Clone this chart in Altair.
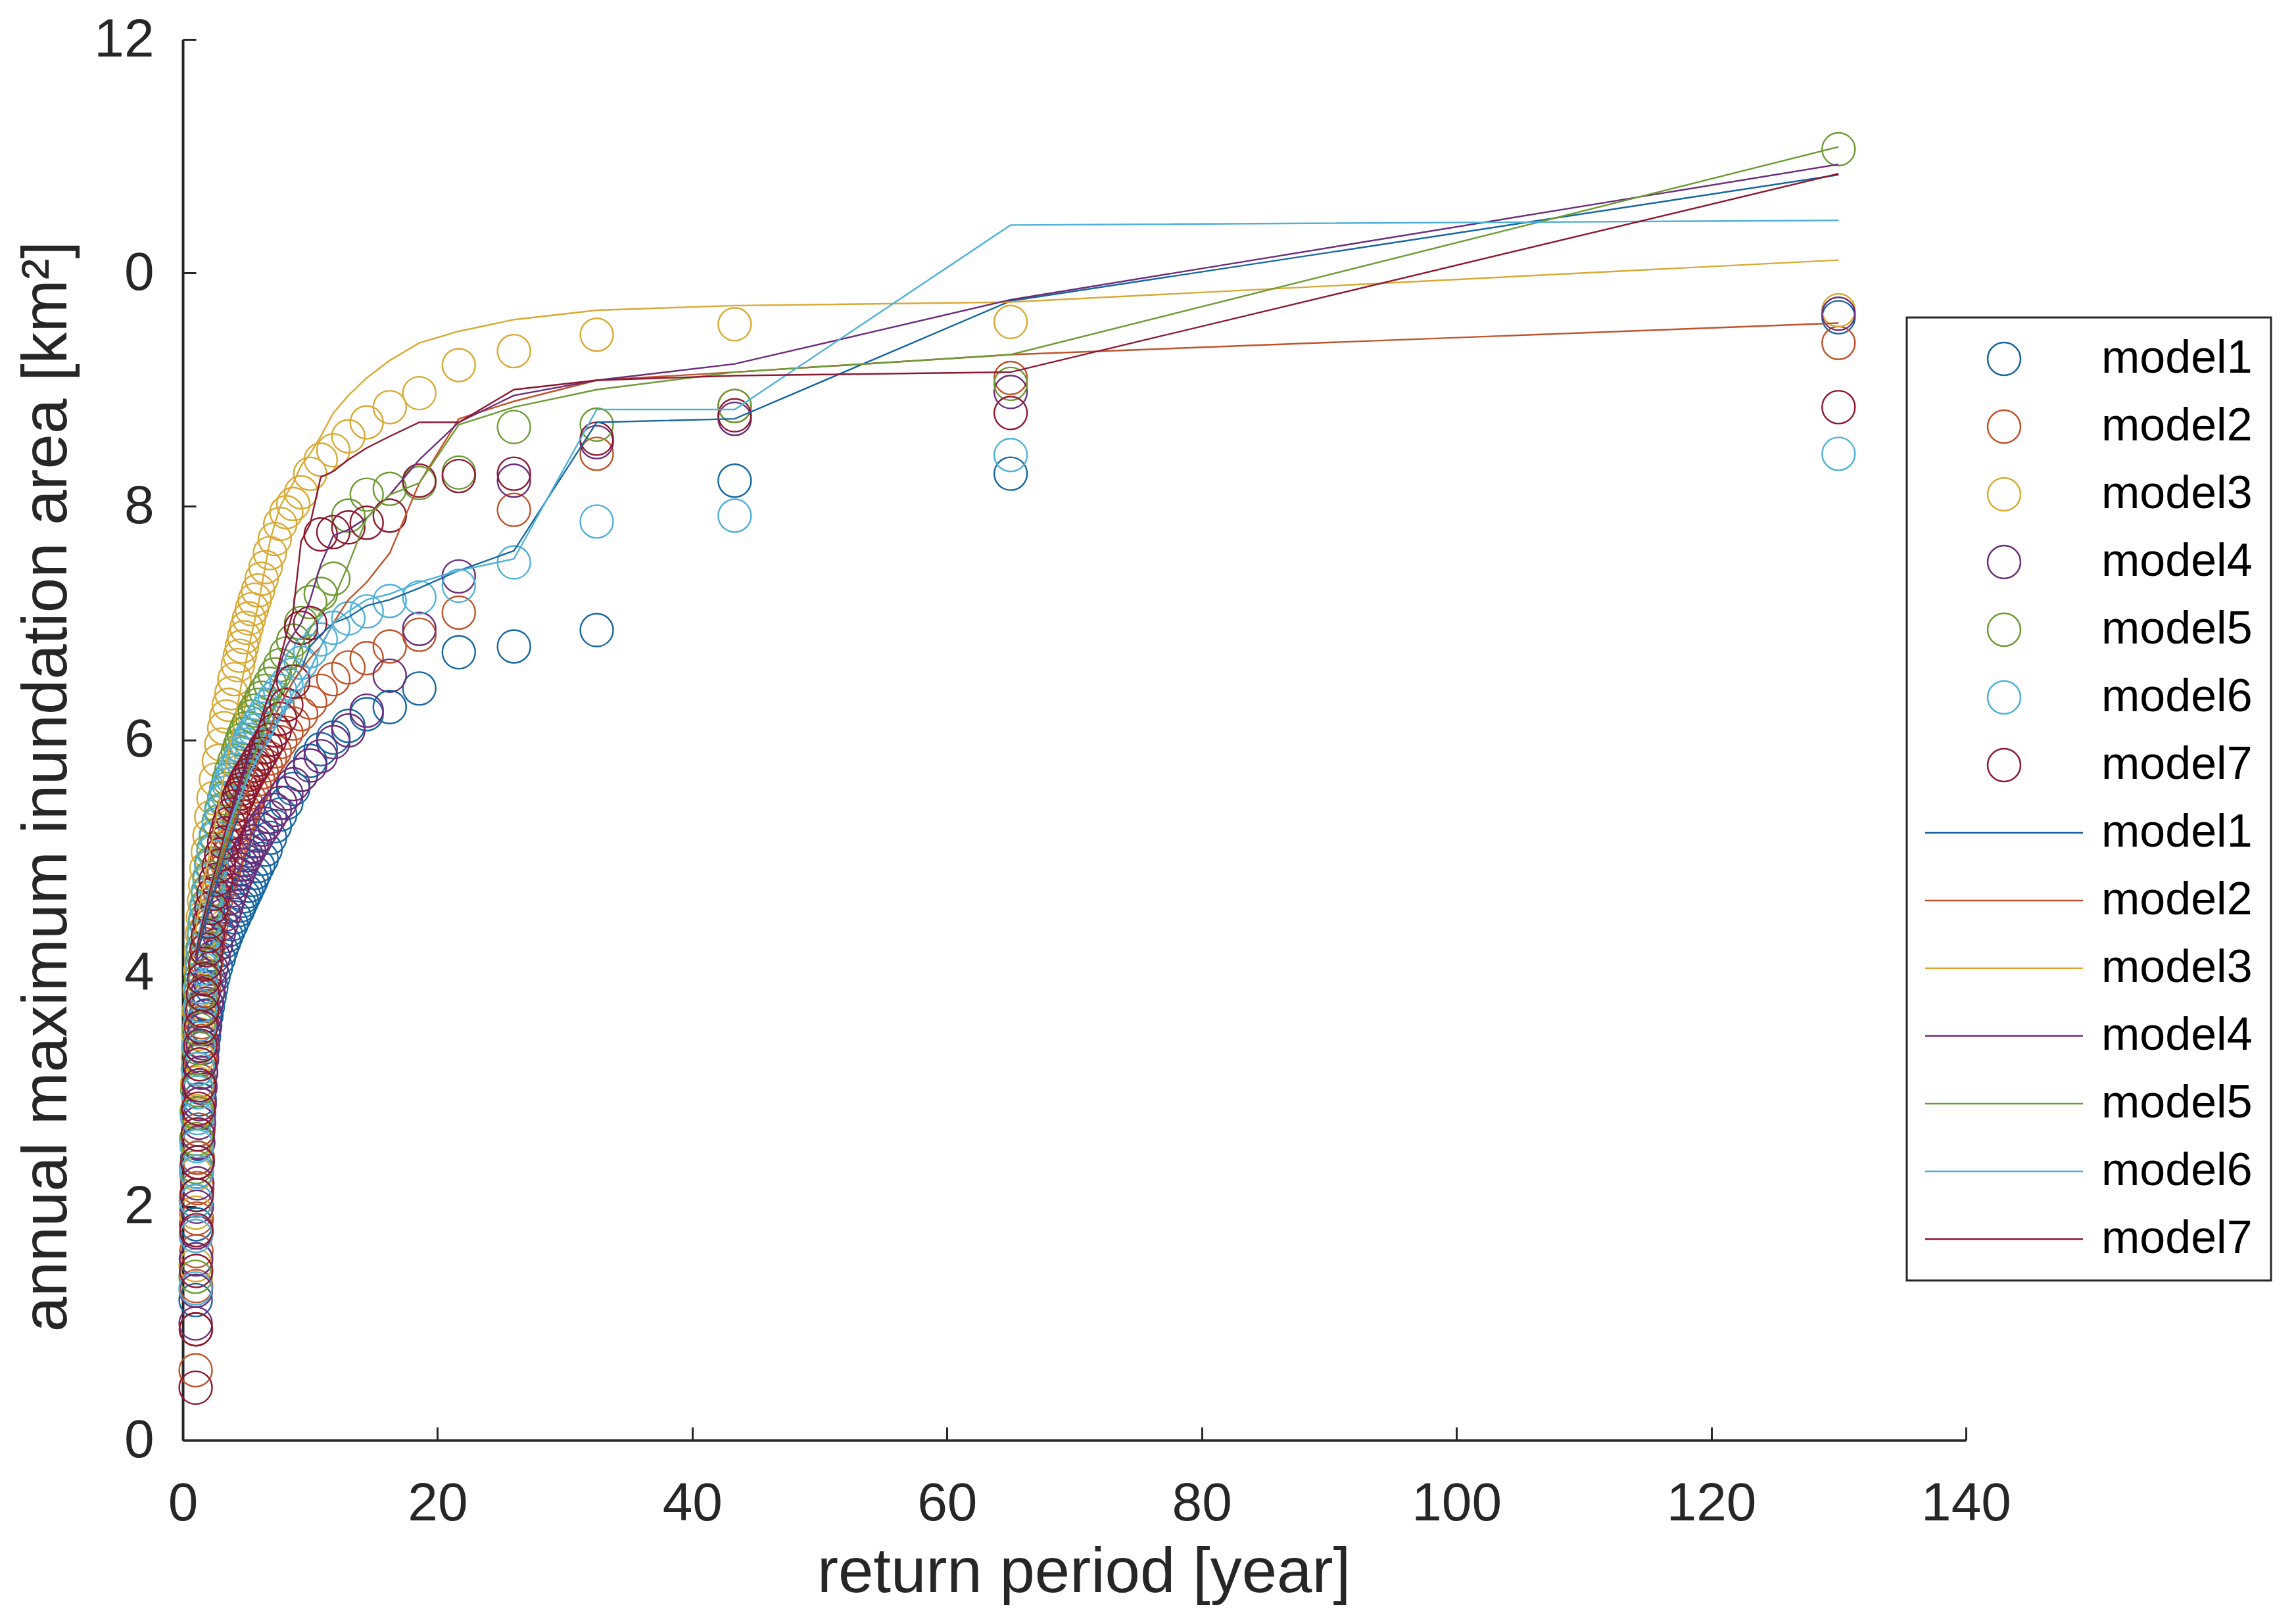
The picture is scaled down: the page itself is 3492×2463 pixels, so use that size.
import altair as alt
import pandas as pd

models = ["model1", "model2", "model3", "model4", "model5", "model6", "model7"]
colors = ["#1565A0", "#C0522A", "#D8AA35", "#6A2D7A", "#6E9A35", "#4FB0D8", "#8C1830"]

# return periods of the plotted (ranked) observations
x_points = [130.0, 65.0, 43.33, 32.5, 26.0, 21.67, 18.57, 16.25, 14.44, 13.0,
            11.82, 10.83, 10.0, 9.29, 8.67, 8.13, 7.65, 7.22, 6.84, 6.5,
            6.19, 5.91, 5.65, 5.42, 5.2, 5.0, 4.81, 4.64, 4.48, 4.33,
            4.06, 3.82, 3.61, 3.42, 3.25, 3.02, 2.83, 2.6, 2.41, 2.24,
            2.1, 1.97, 1.86, 1.76, 1.67, 1.58, 1.51, 1.44, 1.38, 1.33,
            1.27, 1.22, 1.18, 1.14, 1.1, 1.07, 1.05, 1.03, 1.01]

obs_m1 = [9.62, 8.28, 8.22, 6.94, 6.80, 6.75, 6.44, 6.28, 6.22, 6.12,
          6.02, 5.92, 5.82, 5.70, 5.58, 5.46, 5.36, 5.26, 5.16, 5.06,
          4.98, 4.92, 4.86, 4.80, 4.75, 4.70, 4.66, 4.62, 4.58, 4.54,
          4.48, 4.42, 4.37, 4.32, 4.27, 4.20, 4.13, 4.05, 3.97, 3.88,
          3.80, 3.72, 3.64, 3.55, 3.46, 3.36, 3.26, 3.15, 3.04, 2.92,
          2.80, 2.66, 2.54, 2.42, 2.30, 2.10, 1.85, 1.55, 1.20]
obs_m2 = [9.40, 9.10, 8.86, 8.45, 7.97, 7.09, 6.90, 6.80, 6.70, 6.62,
          6.52, 6.42, 6.32, 6.22, 6.14, 6.06, 5.98, 5.90, 5.84, 5.78,
          5.72, 5.66, 5.60, 5.55, 5.50, 5.45, 5.40, 5.35, 5.30, 5.26,
          5.18, 5.10, 5.02, 4.95, 4.88, 4.80, 4.72, 4.62, 4.52, 4.42,
          4.32, 4.22, 4.10, 3.98, 3.85, 3.72, 3.58, 3.42, 3.26, 3.08,
          2.88, 2.66, 2.42, 2.16, 1.90, 1.62, 1.32, 0.95, 0.60]
obs_m3 = [9.68, 9.58, 9.56, 9.47, 9.33, 9.21, 8.97, 8.85, 8.72, 8.60,
          8.48, 8.40, 8.28, 8.12, 8.02, 7.95, 7.85, 7.72, 7.60, 7.48,
          7.38, 7.28, 7.20, 7.12, 7.04, 6.96, 6.88, 6.80, 6.72, 6.64,
          6.52, 6.40, 6.30, 6.20, 6.10, 5.96, 5.82, 5.66, 5.50, 5.34,
          5.18, 5.04, 4.90, 4.76, 4.62, 4.48, 4.34, 4.18, 4.02, 3.86,
          3.68, 3.48, 3.28, 3.06, 2.82, 2.56, 2.28, 1.95, 1.50]
obs_m4 = [9.65, 8.98, 8.75, 8.55, 8.22, 7.40, 6.95, 6.55, 6.25, 6.08,
          5.98, 5.86, 5.78, 5.70, 5.62, 5.54, 5.46, 5.40, 5.34, 5.28,
          5.23, 5.18, 5.13, 5.09, 5.05, 5.01, 4.97, 4.93, 4.89, 4.85,
          4.78, 4.71, 4.64, 4.57, 4.50, 4.42, 4.34, 4.24, 4.14, 4.04,
          3.94, 3.84, 3.74, 3.63, 3.52, 3.40, 3.28, 3.15, 3.02, 2.88,
          2.72, 2.55, 2.38, 2.20, 2.00, 1.78, 1.55, 1.28, 1.00]
obs_m5 = [11.06, 9.05, 8.86, 8.70, 8.68, 8.29, 8.20, 8.15, 8.10, 7.92,
          7.38, 7.25, 7.18, 7.00, 6.85, 6.74, 6.64, 6.56, 6.48, 6.42,
          6.36, 6.30, 6.25, 6.20, 6.15, 6.10, 6.05, 6.00, 5.95, 5.90,
          5.82, 5.74, 5.66, 5.58, 5.50, 5.40, 5.30, 5.18, 5.06, 4.94,
          4.82, 4.70, 4.58, 4.46, 4.34, 4.22, 4.10, 3.96, 3.82, 3.68,
          3.52, 3.36, 3.18, 3.00, 2.80, 2.58, 2.34, 2.05, 1.40]
obs_m6 = [8.45, 8.44, 7.92, 7.87, 7.52, 7.32, 7.22, 7.19, 7.10, 7.04,
          6.96, 6.86, 6.76, 6.66, 6.56, 6.48, 6.42, 6.36, 6.30, 6.24,
          6.18, 6.13, 6.08, 6.04, 6.00, 5.96, 5.92, 5.88, 5.84, 5.80,
          5.74, 5.68, 5.62, 5.55, 5.48, 5.38, 5.28, 5.16, 5.04, 4.92,
          4.80, 4.68, 4.56, 4.44, 4.32, 4.18, 4.04, 3.88, 3.72, 3.56,
          3.38, 3.18, 2.98, 2.76, 2.52, 2.30, 2.05, 1.75, 1.30]
obs_m7 = [8.85, 8.80, 8.78, 8.58, 8.28, 8.26, 8.22, 7.92, 7.86, 7.82,
          7.78, 7.76, 7.00, 6.96, 6.50, 6.30, 6.18, 6.08, 6.00, 5.94,
          5.88, 5.83, 5.78, 5.74, 5.70, 5.66, 5.62, 5.58, 5.54, 5.50,
          5.43, 5.36, 5.28, 5.20, 5.12, 5.02, 4.92, 4.80, 4.68, 4.56,
          4.44, 4.32, 4.20, 4.08, 3.95, 3.82, 3.68, 3.54, 3.38, 3.22,
          3.04, 2.84, 2.62, 2.38, 2.10, 1.80, 1.45, 0.95, 0.45]

# fitted curves
x_lines = [130.0, 65.0, 43.33, 32.5, 26.0, 21.67, 18.57, 16.25, 14.44, 13.0,
           11.82, 10.83, 10.0, 9.29, 8.67, 8.13, 7.65, 7.22, 6.84, 6.5,
           5.91, 5.2, 4.64, 4.06, 3.42, 2.83, 2.24, 1.86, 1.58, 1.38,
           1.22, 1.1, 1.01]

fit_m1 = [10.84, 9.76, 8.75, 8.72, 7.62, 7.45, 7.30, 7.20, 7.15, 7.05,
          7.00, 6.90, 6.80, 6.60, 6.50, 6.40, 6.30, 6.20, 6.10, 6.00,
          5.80, 5.60, 5.45, 5.25, 5.05, 4.85, 4.62, 4.47, 4.35, 4.26,
          4.19, 4.13, 4.10]
fit_m2 = [9.57, 9.30, 9.15, 9.08, 8.90, 8.75, 8.20, 7.60, 7.35, 7.20,
          7.00, 6.80, 6.70, 6.60, 6.50, 6.40, 6.30, 6.20, 6.10, 6.00,
          5.80, 5.60, 5.45, 5.30, 5.10, 4.90, 4.70, 4.55, 4.42, 4.32,
          4.25, 4.18, 4.15]
fit_m3 = [10.11, 9.75, 9.72, 9.68, 9.60, 9.50, 9.40, 9.25, 9.10, 8.95,
          8.80, 8.60, 8.45, 8.35, 8.20, 8.10, 8.00, 7.85, 7.70, 7.50,
          7.15, 6.80, 6.50, 6.15, 5.80, 5.45, 5.10, 4.90, 4.75, 4.60,
          4.51, 4.42, 4.35]
fit_m4 = [10.93, 9.77, 9.22, 9.08, 8.95, 8.72, 8.40, 8.10, 7.90, 7.80,
          7.75, 7.50, 7.20, 7.00, 6.90, 6.80, 6.65, 6.50, 6.40, 6.30,
          6.10, 5.85, 5.65, 5.45, 5.20, 4.95, 4.70, 4.52, 4.40, 4.30,
          4.22, 4.16, 4.12]
fit_m5 = [11.08, 9.30, 9.15, 9.00, 8.85, 8.70, 8.20, 8.10, 7.90, 7.50,
          7.20, 7.10, 6.95, 6.80, 6.65, 6.50, 6.40, 6.30, 6.20, 6.10,
          5.95, 5.75, 5.55, 5.35, 5.15, 4.95, 4.72, 4.55, 4.43, 4.33,
          4.25, 4.19, 4.15]
fit_m6 = [10.45, 10.41, 8.83, 8.83, 7.55, 7.45, 7.35, 7.25, 7.20, 7.10,
          7.00, 6.80, 6.60, 6.50, 6.40, 6.30, 6.20, 6.10, 6.00, 5.95,
          5.85, 5.70, 5.55, 5.40, 5.20, 5.00, 4.78, 4.62, 4.50, 4.40,
          4.32, 4.25, 4.20]
fit_m7 = [10.85, 9.15, 9.12, 9.08, 9.00, 8.72, 8.72, 8.60, 8.50, 8.40,
          8.30, 8.25, 7.85, 7.70, 7.10, 6.90, 6.70, 6.50, 6.40, 6.30,
          6.10, 5.90, 5.70, 5.50, 5.25, 5.00, 4.75, 4.58, 4.45, 4.35,
          4.27, 4.20, 4.15]

x_ticks = [0, 20, 40, 60, 80, 100, 120, 140]
y_ticks = [0, 2, 4, 6, 8, 10, 12]

obs = [obs_m1, obs_m2, obs_m3, obs_m4, obs_m5, obs_m6, obs_m7]
fits = [fit_m1, fit_m2, fit_m3, fit_m4, fit_m5, fit_m6, fit_m7]

rows_p = []
for name, ys in zip(models, obs):
    for xv, yv in zip(x_points, ys):
        rows_p.append({"x": xv, "y": yv, "key": "c|" + name})
rows_l = []
for name, ys in zip(models, fits):
    for xv, yv in zip(x_lines, ys):
        rows_l.append({"x": xv, "y": yv, "key": "l|" + name})
df_p = pd.DataFrame(rows_p)
df_l = pd.DataFrame(rows_l)

keys = ["c|" + m for m in models] + ["l|" + m for m in models]
color_scale = alt.Scale(domain=keys, range=colors + colors)
shape_scale = alt.Scale(domain=keys, range=["circle"] * 7 + ["M-4.8,0H4.8"] * 7)

FONT = "Liberation Sans"
TXT = "#262626"

legend = alt.Legend(
    title=None, orient="none", legendX=2622, legendY=423, direction="vertical",
    symbolSize=2500, symbolStrokeWidth=2.5, symbolOffset=85, labelOffset=113,
    symbolFillColor="transparent",
    labelFont=FONT, labelFontSize=70, labelColor="#000000", labelLimit=600,
    labelExpr="split(datum.label, '|')[1] + '\u00a0\u00a0'",
    rowPadding=33, padding=28, strokeColor="#262626", fillColor="#ffffff",
)

xs = alt.Scale(domain=[0, 140], nice=False, zero=False)
ys_ = alt.Scale(domain=[0, 12], nice=False, zero=False)

x_axis_main = alt.Axis(
    values=x_ticks, ticks=False, tickSize=0, grid=False, labelFlush=False, labelOverlap=False,
    domainColor=TXT, domainWidth=4, labelFont=FONT, labelFontSize=82, labelColor=TXT,
    labelPadding=56, title="return period [year]", titleFont=FONT, titleFontSize=96,
    titleFontWeight="normal", titleColor=TXT, titleX=1370, titleY=230,
    titleAlign="center", titleBaseline="alphabetic",
)
y_axis_main = alt.Axis(
    values=y_ticks, ticks=False, tickSize=0, grid=False, labelOverlap=False,
    domainColor=TXT, domainWidth=4, labelFont=FONT, labelFontSize=82, labelColor=TXT,
    labelPadding=44, labelExpr="datum.value == 10 ? '0' : datum.label",
    title="annual maximum inundation area [km²]", titleFont=FONT, titleFontSize=96,
    titleFontWeight="normal", titleColor=TXT, titleAngle=270, titleX=-207, titleY=1136,
    titleAlign="center", titleBaseline="middle",
)
x_axis_ticks = alt.Axis(
    orient="bottom", values=x_ticks, offset=-20, tickSize=20, tickWidth=3, tickColor=TXT,
    labels=False, domain=False, grid=False, title=None,
)
y_axis_ticks = alt.Axis(
    orient="left", values=y_ticks, offset=-20, tickSize=20, tickWidth=3, tickColor=TXT,
    labels=False, domain=False, grid=False, title=None,
)

points = alt.Chart(df_p).mark_point(filled=False, size=2500, strokeWidth=2.4, opacity=1).encode(
    x=alt.X("x:Q", scale=xs, axis=x_axis_main),
    y=alt.Y("y:Q", scale=ys_, axis=y_axis_main),
    color=alt.Color("key:N", scale=color_scale, legend=legend),
    shape=alt.Shape("key:N", scale=shape_scale, legend=legend),
)

lines = alt.Chart(df_l).mark_line(strokeWidth=2.4).encode(
    x=alt.X("x:Q", scale=xs, axis=x_axis_ticks),
    y=alt.Y("y:Q", scale=ys_, axis=y_axis_ticks),
    color=alt.Color("key:N", scale=color_scale, legend=legend),
)

chart = (
    alt.layer(points, lines)
    .resolve_axis(x="independent", y="independent")
    .properties(
        width=2712, height=2131,
        autosize=alt.AutoSizeParams(type="none"),
        padding={"left": 270, "top": 52, "right": 494, "bottom": 262},
        background="#ffffff",
    )
    .configure_view(stroke=None)
    .configure_legend(strokeWidth=3)
)

chart.save("out.html", embed_options={"renderer": "svg", "actions": False})
